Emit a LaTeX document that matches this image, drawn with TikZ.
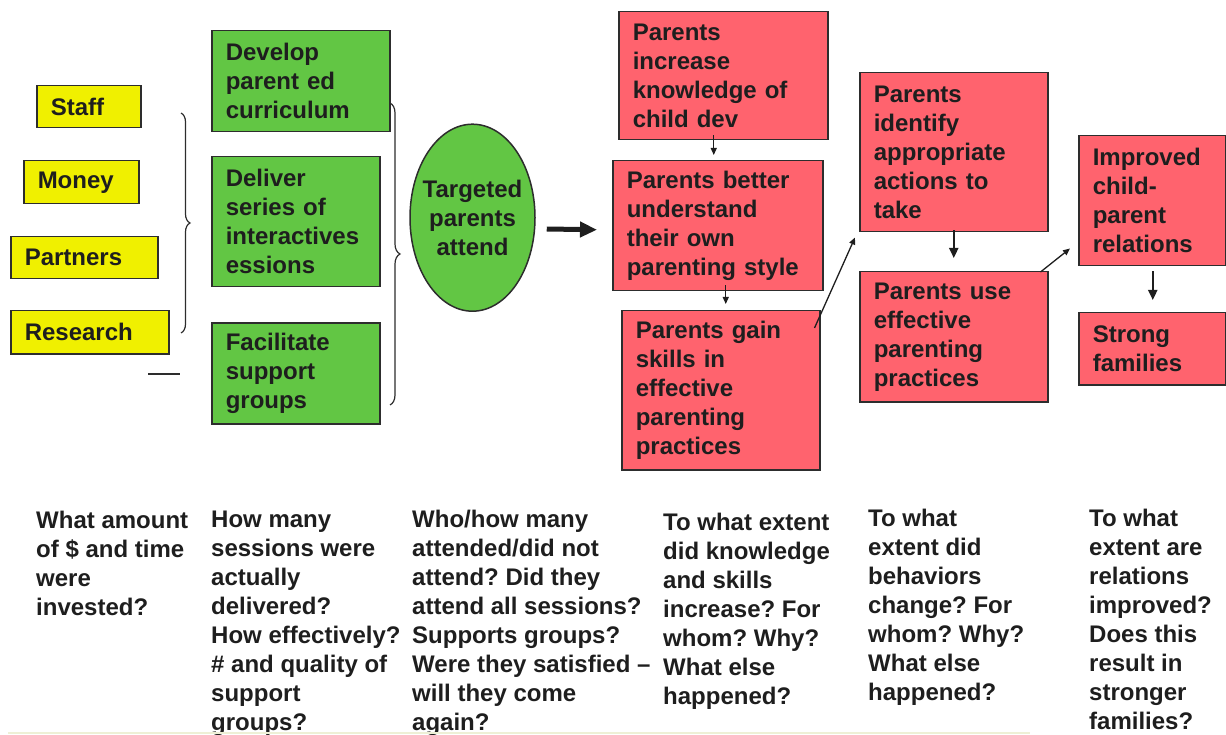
\documentclass[tikz,border=0pt]{standalone}
\usepackage{fontspec}
\setmainfont{Liberation Sans}
\usetikzlibrary{shapes.geometric,arrows.meta,decorations.pathreplacing}
\definecolor{ink}{RGB}{30,30,30}
\definecolor{edge}{RGB}{45,45,45}
\definecolor{boxyellow}{RGB}{240,240,0}
\definecolor{boxgreen}{RGB}{98,198,68}
\definecolor{boxred}{RGB}{255,99,110}
\definecolor{rule}{RGB}{238,240,214}
\frenchspacing

\begin{document}
\begin{tikzpicture}[x=1pt, y=-1pt,
    every node/.style={font=\bfseries\fontsize{24}{29}\selectfont, text=ink},
    box/.style={draw=edge, line width=1.5pt, anchor=north west, align=left,
        inner xsep=14pt, inner ysep=0pt},
    yellowbox/.style={box, fill=boxyellow},
    greenbox/.style={box, fill=boxgreen},
    redbox/.style={box, fill=boxred},
    question/.style={anchor=north west, align=left, inner sep=0pt},
    link/.style={draw=ink, line width=1.3pt, -{Triangle[length=7pt,width=6pt]}},
    boldlink/.style={draw=ink, line width=2.2pt, -{Triangle[length=10pt,width=9pt]}},
    biglink/.style={draw=ink, line width=5pt, -{Triangle[length=17pt,width=15pt]}},
    bracket/.style={draw=edge, line width=1.2pt, decorate}]
    \useasboundingbox (0,0) rectangle (1226,735);

    \node[yellowbox, text width=76pt,  minimum height=42pt] (staff)    at (36,85)  {Staff};
    \node[yellowbox, text width=87pt,  minimum height=43pt] (money)    at (23,160) {Money};
    \node[yellowbox, text width=119pt, minimum height=42pt] (partners) at (10,236) {Partners};
    \node[yellowbox, text width=130pt, minimum height=43pt] (research) at (10,310) {Research};
    \draw[bracket, decoration={brace, amplitude=9pt}] (181,113) -- (181,333);
    \draw[draw=edge, line width=1.2pt] (148,374) -- (180,374);

    \node[greenbox, text width=150pt, minimum height=101pt] (develop)    at (211,30)  {Develop\\parent ed\\curriculum};
    \node[greenbox, text width=140pt, minimum height=130pt] (deliver)    at (211,156) {Deliver\\series of\\interactives\\essions};
    \node[greenbox, text width=140pt, minimum height=101pt] (facilitate) at (211,322) {Facilitate\\support\\groups};
    \draw[bracket, decoration={brace, amplitude=10pt}] (390,103) -- (390,405);

    \node[ellipse, draw=edge, line width=1.5pt, fill=boxgreen, inner sep=0pt,
        minimum width=125pt, minimum height=187pt] (attend) at (472.5,217.7) {};
    \node[align=center, inner sep=0pt] (attendtext) at (attend.center) {Targeted\\parents\\attend};

    \node[redbox, text width=181pt, minimum height=128pt] (know)     at (618,11)   {Parents\\increase\\knowledge of\\child dev};
    \node[redbox, text width=182pt, minimum height=130pt] (under)    at (612,160)  {Parents better\\understand\\their own\\parenting style};
    \node[redbox, text width=170pt, minimum height=159pt] (gain)     at (621,310)  {Parents gain\\skills in\\effective\\parenting\\practices};
    \node[redbox, text width=160pt, minimum height=159pt] (identify) at (859,72)   {Parents\\identify\\appropriate\\actions to\\take};
    \node[redbox, text width=160pt, minimum height=130pt] (use)      at (859,271)  {Parents use\\effective\\parenting\\practices};
    \node[redbox, text width=119pt, minimum height=130pt] (relate)   at (1078,135) {Improved\\child-\\parent\\relations};
    \node[redbox, text width=119pt, minimum height=72pt]  (strong)   at (1078,312) {Strong\\families};

    \draw[biglink] ([shift={(11,11.3)}]attend.east) -- ([shift={(-15,4)}]under.west);
    \draw[link] ([shift={(-9.5,-5)}]know.south) -- ([shift={(-4,-5)}]under.north);
    \draw[link] ([shift={(8,-6)}]under.south) -- ([shift={(5,-6)}]gain.north);
    \draw[link] ([shift={(-6,18)}]gain.north east) -- ([shift={(-4,5)}]identify.south west);
    \draw[boldlink] ([shift={(0,-2)}]identify.south) -- ([shift={(0,-13)}]use.north);
    \draw[link] ([shift={(-8,1)}]use.north east) -- ([shift={(-8,-18)}]relate.south west);
    \draw[boldlink] ([shift={(0.5,5)}]relate.south) -- ([shift={(0.5,-12)}]strong.north);

    \node[question] (q1) at (36,510.5)  {What amount\\of \$ and time\\were\\invested?};
    \node[question] (q2) at (211,510.5) {How many\\sessions were\\actually\\delivered?\\How effectively?\\\# and quality of\\support\\groups?};
    \node[question] (q3) at (412,509.5) {Who/how many\\attended/did not\\attend? Did they\\attend all sessions?\\Supports groups?\\Were they satisfied --\\will they come\\again?};
    \node[question] (q4) at (663,512.5) {To what extent\\did knowledge\\and skills\\increase? For\\whom? Why?\\What else\\happened?};
    \node[question] (q5) at (868,508.5) {To what\\extent did\\behaviors\\change? For\\whom? Why?\\What else\\happened?};
    \node[question] (q6) at (1089,508.5) {To what\\extent are\\relations\\improved?\\Does this\\result in\\stronger\\families?};

    \draw[draw=rule, line width=1.5pt] (8,733) -- (1030,733);
\end{tikzpicture}
\end{document}
